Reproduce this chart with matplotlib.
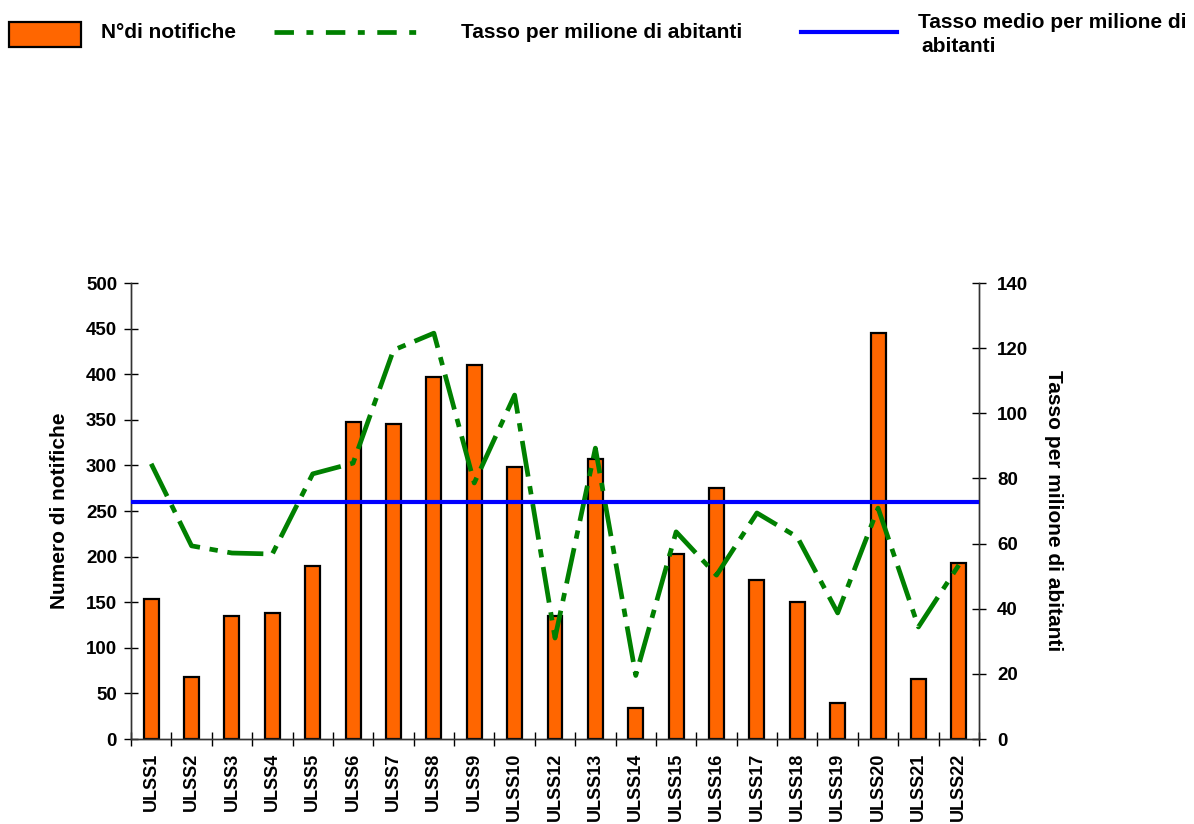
import matplotlib
matplotlib.use('Agg')
import matplotlib.pyplot as plt
from matplotlib.patches import Rectangle
from matplotlib.lines import Line2D
import numpy as np

plt.rcParams['font.family'] = ['Liberation Sans', 'DejaVu Sans']
plt.rcParams['font.weight'] = 'bold'
plt.rcParams['lines.scale_dashes'] = False

categories = ['ULSS1', 'ULSS2', 'ULSS3', 'ULSS4', 'ULSS5', 'ULSS6', 'ULSS7',
              'ULSS8', 'ULSS9', 'ULSS10', 'ULSS12', 'ULSS13', 'ULSS14', 'ULSS15',
              'ULSS16', 'ULSS17', 'ULSS18', 'ULSS19', 'ULSS20', 'ULSS21', 'ULSS22']
notifiche = [153, 68, 135, 138, 190, 348, 345, 397, 410, 298, 135,
             307, 34, 203, 275, 174, 150, 39, 445, 66, 193]
tasso = [84.5, 59.3, 57.1, 56.8, 81.4, 84.7, 119.4, 124.6, 78.6, 105.6, 31.0,
         89.3, 19.5, 63.6, 50.3, 69.4, 62.0, 38.7, 70.9, 34.4, 53.4]
tasso_medio = 72.8

W, H = 1194, 824
fig = plt.figure(figsize=(W / 100, H / 100), dpi=100)


def fx(px):
    return px / W


def fy(py):
    return 1 - py / H


ax = fig.add_axes([fx(131), fy(739), fx(979) - fx(131), fy(283) - fy(739)])
ax2 = ax.twinx()

x = np.arange(len(categories))
ax.bar(x, notifiche, width=0.37, color='#FF6600', edgecolor='black', linewidth=1.6, zorder=2)

ax.set_xlim(-0.5, len(categories) - 0.5)
ax.set_ylim(0, 500)
ax.set_yticks(range(0, 501, 50))
ax2.set_ylim(0, 140)
ax2.set_yticks(range(0, 141, 20))

ax2.plot(x, tasso, color='#008000', linewidth=3.4, dashes=(26, 7, 6, 7), zorder=3)
ax2.axhline(tasso_medio, color='#0000FF', linewidth=3, zorder=4)

for a in (ax, ax2):
    a.spines['top'].set_visible(False)
    for s in ('left', 'right', 'bottom'):
        a.spines[s].set_color('#333333')
        a.spines[s].set_linewidth(1.0)

ax.set_xticks(x)
ax.set_xticklabels(categories, rotation=90, fontsize=13, fontweight='bold')
ax.set_xticks(np.arange(-0.5, len(categories), 1), minor=True)
ax.tick_params(axis='x', which='major', length=0, pad=10)
ax.tick_params(axis='x', which='minor', direction='inout', length=10, width=1)
ax.tick_params(axis='y', direction='inout', length=10, width=1, labelsize=13.5, pad=5)
ax2.tick_params(axis='y', direction='inout', length=10, width=1, labelsize=13.5, pad=8)

ax.set_ylabel('Numero di notifiche', fontsize=15, fontweight='bold', labelpad=12)
ax2.set_ylabel('Tasso per milione di abitanti', fontsize=15, fontweight='bold',
               rotation=-90, labelpad=25)

# legend drawn at the top of the figure
fig.patches.append(Rectangle((fx(9), fy(47)), fx(81) - fx(9), fy(22) - fy(47),
                             transform=fig.transFigure, facecolor='#FF6600',
                             edgecolor='black', linewidth=1.6))
fig.text(fx(101), fy(32), 'N°di notifiche', fontsize=15, fontweight='bold', va='center')
fig.lines.append(Line2D([fx(274), fx(417)], [fy(32), fy(32)], transform=fig.transFigure,
                        color='#008000', linewidth=3.4, dashes=(14, 9, 5, 9)))
fig.text(fx(461), fy(32), 'Tasso per milione di abitanti', fontsize=15,
         fontweight='bold', va='center')
fig.lines.append(Line2D([fx(801), fx(897)], [fy(32), fy(32)], transform=fig.transFigure,
                        color='#0000FF', linewidth=3))
fig.text(fx(918), fy(23), 'Tasso medio per milione di', fontsize=15,
         fontweight='bold', va='center')
fig.text(fx(921), fy(47), 'abitanti', fontsize=15, fontweight='bold', va='center')

fig.savefig('out.png', dpi=100)
